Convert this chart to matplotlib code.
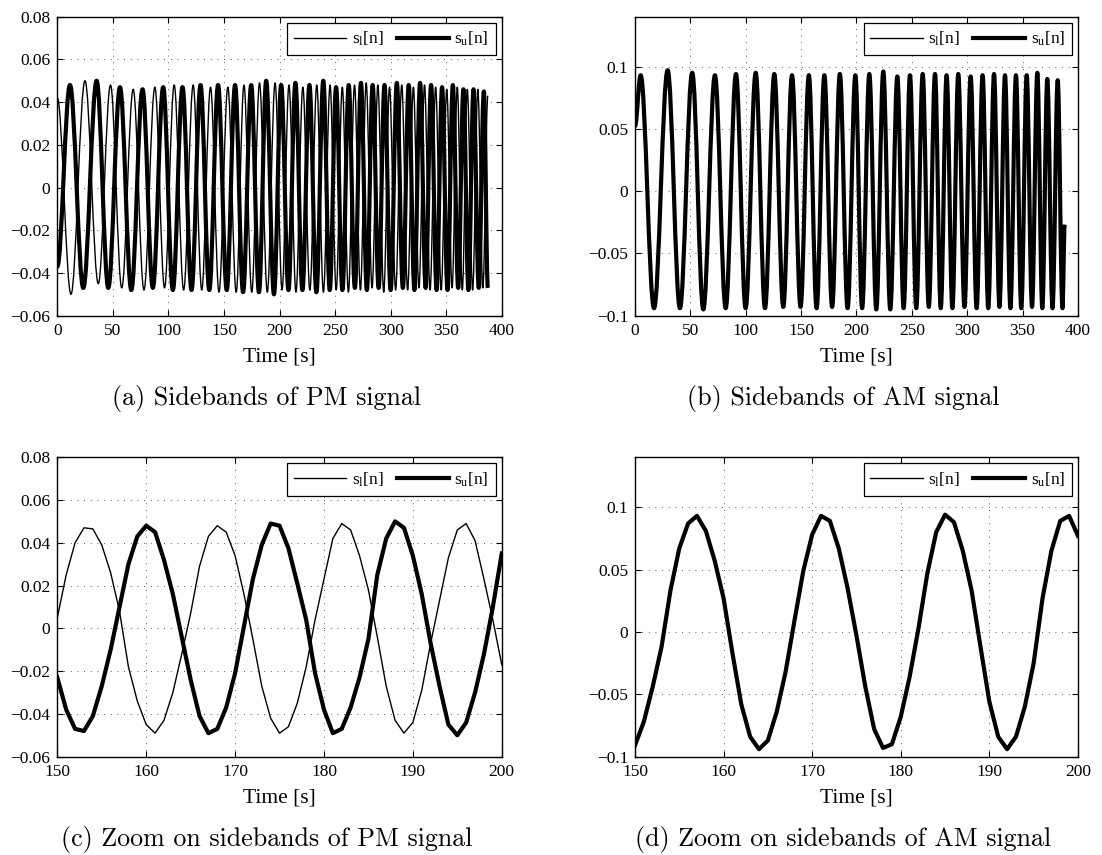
import matplotlib
matplotlib.use('Agg')
import matplotlib.pyplot as plt
import numpy as np
from matplotlib.path import Path
from matplotlib.patches import PathPatch
from matplotlib.lines import Line2D
from matplotlib.ticker import FuncFormatter, MultipleLocator

plt.rcParams['font.family'] = ['Liberation Serif', 'DejaVu Serif']

# full runs: start value, alternating extrema, end value
am_ext_t = [0, 5.1, 17.2, 29.5, 40.6, 51.7, 61.7, 72.2, 81.9, 91.2, 99.9, 109.0, 117.4, 125.8, 133.9,
            141.8, 149.5, 157.0, 164.0, 171.0, 178.0, 185.0, 192.0, 199.0, 205.1, 211.6, 217.9, 224.2,
            230.5, 236.9, 242.6, 248.3, 254.0, 259.8, 265.3, 270.9, 276.1, 281.4, 286.6, 291.9, 297.5,
            303.1, 308.5, 313.9, 319.0, 324.2, 329.1, 334.1, 339.0, 344.0, 348.8, 353.7, 358.5, 363.3,
            367.8, 372.3, 377.0, 381.7, 386.0, 388.0]
am_ext_v = [0.052, 0.093, -0.094, 0.097, -0.094, 0.095, -0.095, 0.093, -0.094, 0.094, -0.094, 0.095,
            -0.094, 0.094, -0.093, 0.093, -0.093, 0.093, -0.094, 0.093, -0.093, 0.094, -0.094, 0.093,
            -0.094, 0.094, -0.095, 0.096, -0.095, 0.092, -0.094, 0.093, -0.094, 0.094, -0.093, 0.094,
            -0.094, 0.093, -0.094, 0.094, -0.093, 0.092, -0.094, 0.093, -0.094, 0.094, -0.093, 0.093,
            -0.094, 0.093, -0.094, 0.093, -0.093, 0.095, -0.094, 0.090, -0.094, 0.089, -0.094, -0.027]

pm_u_t = [0, 11.4, 23.4, 35.4, 45.9, 56.4, 66.6, 76.7, 86.0, 95.3, 104.0, 112.7, 120.8, 128.9, 136.8,
          144.7, 152.5, 160.0, 167.2, 174.5, 181.5, 188.0, 195.0, 201.5, 208.0, 214.3, 220.6, 226.9,
          233.2, 239.4, 245.2, 250.9, 256.6, 262.3, 267.8, 273.3, 278.6, 283.8, 289.2, 294.5, 300.0,
          305.6, 311.0, 316.3, 321.4, 326.5, 331.5, 336.4, 341.4, 346.3, 351.2, 356.0, 360.8, 365.5,
          370.0, 374.6, 379.3, 383.9, 387.5]
pm_u_v = [-0.037, 0.048, -0.047, 0.050, -0.047, 0.047, -0.048, 0.046, -0.047, 0.047, -0.048, 0.047,
          -0.048, 0.048, -0.048, 0.048, -0.048, 0.048, -0.049, 0.048, -0.049, 0.050, -0.050, 0.048,
          -0.048, 0.049, -0.048, 0.048, -0.049, 0.050, -0.048, 0.047, -0.048, 0.048, -0.047, 0.049,
          -0.048, 0.048, -0.047, 0.048, -0.048, 0.049, -0.047, 0.048, -0.048, 0.049, -0.047, 0.048,
          -0.048, 0.047, -0.048, 0.048, -0.047, 0.046, -0.048, 0.046, -0.047, 0.045, -0.047]

pm_l_t = [0, 12.3, 24.9, 36.9, 47.9, 58.0, 68.3, 78.0, 87.8, 96.5, 105.2, 113.7, 122.3, 130.0, 137.9,
          145.5, 153.5, 161.0, 168.0, 175.0, 182.0, 189.0, 196.0, 202.3, 208.5, 214.8, 221.0, 227.3,
          233.5, 239.5, 245.5, 251.0, 256.5, 262.0, 267.5, 272.8, 278.0, 283.3, 288.5, 293.8, 299.0,
          304.5, 310.0, 315.3, 320.5, 325.5, 330.5, 335.5, 340.5, 345.5, 350.5, 355.3, 360.0, 364.5,
          369.0, 373.8, 378.5, 383.0, 387.5]
pm_l_v = [0.042, -0.050, 0.050, -0.045, 0.048, -0.047, 0.046, -0.048, 0.047, -0.047, 0.048, -0.048,
          0.048, -0.048, 0.047, -0.049, 0.047, -0.049, 0.048, -0.049, 0.049, -0.049, 0.049, -0.048,
          0.048, -0.049, 0.047, -0.048, 0.048, -0.049, 0.048, -0.048, 0.047, -0.049, 0.048, -0.048,
          0.049, -0.047, 0.048, -0.049, 0.047, -0.048, 0.048, -0.048, 0.047, -0.047, 0.048, -0.048,
          0.047, -0.048, 0.046, -0.047, 0.047, -0.048, 0.046, -0.048, 0.046, -0.047, 0.043]

# zoomed windows: one sample per second
zoom_t = np.arange(150, 201)
pm_zoom_l = [0.005, 0.025, 0.040, 0.047, 0.0465, 0.039, 0.026, 0.008, -0.018, -0.034,
             -0.045, -0.049, -0.043, -0.030, -0.012, 0.007, 0.029, 0.043, 0.048, 0.045,
             0.034, 0.016, -0.005, -0.027, -0.042, -0.049, -0.046, -0.035, -0.018, 0.004,
             0.023, 0.042, 0.049, 0.046, 0.034, 0.018, -0.004, -0.027, -0.043, -0.049,
             -0.044, -0.029, -0.007, 0.013, 0.033, 0.046, 0.049, 0.041, 0.023, 0.004, -0.017]
pm_zoom_u = [-0.023, -0.038, -0.047, -0.048, -0.041, -0.027, -0.010, 0.010, 0.030, 0.043,
             0.048, 0.045, 0.032, 0.016, -0.004, -0.024, -0.041, -0.049, -0.047, -0.037,
             -0.021, 0.001, 0.023, 0.039, 0.049, 0.048, 0.0375, 0.021, 0.004, -0.021,
             -0.038, -0.049, -0.047, -0.037, -0.023, -0.005, 0.025, 0.042, 0.050, 0.047,
             0.034, 0.016, -0.007, -0.027, -0.045, -0.050, -0.044, -0.030, -0.012, 0.010, 0.035]
am_zoom = [-0.091, -0.072, -0.044, -0.012, 0.033, 0.067, 0.087, 0.093, 0.081, 0.057,
           0.027, -0.017, -0.058, -0.084, -0.094, -0.087, -0.064, -0.032, 0.009, 0.049,
           0.078, 0.093, 0.089, 0.067, 0.035, -0.003, -0.044, -0.078, -0.093, -0.090,
           -0.068, -0.036, 0.003, 0.047, 0.080, 0.094, 0.088, 0.065, 0.033, -0.012,
           -0.056, -0.084, -0.094, -0.084, -0.060, -0.025, 0.027, 0.065, 0.089, 0.093, 0.077]

captions = ['(a) Sidebands of PM signal', '(b) Sidebands of AM signal',
            '(c) Zoom on sidebands of PM signal', '(d) Zoom on sidebands of AM signal']
legend_labels = [r'$\mathregular{s_l[n]}$', r'$\mathregular{s_u[n]}$']

THIN, THICK = 1.0, 3.0


def wave(ax, t, v, lw):
    # smooth curve through the extrema, flat at each turning point
    verts = [(t[0], v[0])]
    codes = [Path.MOVETO]
    for i in range(1, len(t)):
        d = 0.363 * (t[i] - t[i - 1])
        verts += [(t[i - 1] + d, v[i - 1]), (t[i] - d, v[i]), (t[i], v[i])]
        codes += [Path.CURVE4] * 3
    ax.add_patch(PathPatch(Path(verts, codes), fill=False, lw=lw, edgecolor='k',
                           joinstyle='round', capstyle='butt'))


def fmt(x, pos):
    return ('%g' % round(x, 4)).replace('-', '\u2212')


def style(ax, xlim, xstep, ylim, ystep):
    ax.set_xlim(xlim)
    ax.set_ylim(ylim)
    ax.xaxis.set_major_locator(MultipleLocator(xstep))
    ax.yaxis.set_major_locator(MultipleLocator(ystep))
    ax.xaxis.set_major_formatter(FuncFormatter(fmt))
    ax.yaxis.set_major_formatter(FuncFormatter(fmt))
    ax.tick_params(direction='in', top=True, right=True, length=4, width=0.8,
                   labelsize=12.5, pad=5)
    ax.grid(True, color='0.15', linestyle=(0, (1, 7)), linewidth=0.6)
    for s in ax.spines.values():
        s.set_linewidth(1.0)
    ax.set_xlabel('Time [s]', fontsize=15.5)
    ax.xaxis.set_label_coords(0.5, -0.105)
    handles = [Line2D([], [], color='k', lw=THIN), Line2D([], [], color='k', lw=THICK)]
    leg = ax.legend(handles, legend_labels, ncol=2, loc='upper right', fontsize=12.5,
                    fancybox=False, edgecolor='k', framealpha=1, handlelength=3.0,
                    handletextpad=0.3, columnspacing=0.8, borderaxespad=0.35)
    leg.get_frame().set_linewidth(0.9)


fig = plt.figure(figsize=(11.02, 8.55), dpi=100)
ax_a = fig.add_axes([0.0520, 0.6308, 0.4033, 0.3497])
ax_b = fig.add_axes([0.5762, 0.6308, 0.4020, 0.3497])
ax_c = fig.add_axes([0.0520, 0.1150, 0.4033, 0.3502])
ax_d = fig.add_axes([0.5762, 0.1150, 0.4020, 0.3502])

wave(ax_a, pm_l_t, pm_l_v, THIN)
wave(ax_a, pm_u_t, pm_u_v, THICK)
style(ax_a, (0, 400), 50, (-0.06, 0.08), 0.02)

wave(ax_b, am_ext_t, am_ext_v, THIN)
wave(ax_b, am_ext_t, am_ext_v, THICK)
style(ax_b, (0, 400), 50, (-0.1, 0.14), 0.05)

ax_c.plot(zoom_t, pm_zoom_l, color='k', lw=THIN)
ax_c.plot(zoom_t, pm_zoom_u, color='k', lw=THICK)
style(ax_c, (150, 200), 10, (-0.06, 0.08), 0.02)

ax_d.plot(zoom_t, am_zoom, color='k', lw=THIN)
ax_d.plot(zoom_t, am_zoom, color='k', lw=THICK)
style(ax_d, (150, 200), 10, (-0.1, 0.14), 0.05)

cap_x = [0.242, 0.7654, 0.242, 0.7654]
cap_y = [0.5345, 0.5345, 0.0179, 0.0179]
for x, y, c in zip(cap_x, cap_y, captions):
    fig.text(x, y, c, ha='center', va='center', fontfamily='cmr10', fontsize=18.7)

plt.savefig('out.png', dpi=100)
